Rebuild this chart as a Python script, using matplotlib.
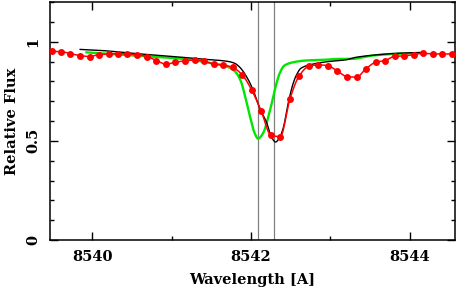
import numpy as np
import matplotlib
matplotlib.use("Agg")
import matplotlib.pyplot as plt
from matplotlib.ticker import MultipleLocator

# Observed spectrum (red points)
obs_wave = [8539.50, 8539.61, 8539.72, 8539.85, 8539.97, 8540.09, 8540.21, 8540.32,
            8540.44, 8540.56, 8540.69, 8540.81, 8540.93, 8541.05, 8541.17, 8541.29,
            8541.41, 8541.53, 8541.65, 8541.77, 8541.89, 8542.01, 8542.13, 8542.25,
            8542.37, 8542.49, 8542.61, 8542.73, 8542.85, 8542.97, 8543.09, 8543.21,
            8543.33, 8543.45, 8543.57, 8543.69, 8543.81, 8543.93, 8544.05, 8544.17,
            8544.29, 8544.41, 8544.53]
obs_flux = [0.951, 0.950, 0.940, 0.930, 0.925, 0.935, 0.937, 0.940,
            0.937, 0.935, 0.925, 0.905, 0.886, 0.897, 0.903, 0.908,
            0.902, 0.887, 0.883, 0.870, 0.833, 0.756, 0.650, 0.529,
            0.521, 0.710, 0.829, 0.876, 0.883, 0.879, 0.851, 0.824,
            0.821, 0.864, 0.896, 0.905, 0.926, 0.928, 0.935, 0.941,
            0.938, 0.938, 0.938]

# Black model
blk_wave = [8539.85, 8540.10, 8540.52, 8540.94, 8541.36, 8541.72, 8541.80, 8541.86,
            8541.95, 8542.03, 8542.11, 8542.20, 8542.25, 8542.31, 8542.36, 8542.41,
            8542.47, 8542.53, 8542.57, 8542.63, 8542.77, 8542.98, 8543.19, 8543.32,
            8543.57, 8543.82, 8544.17]
blk_flux = [0.961, 0.956, 0.941, 0.928, 0.913, 0.900, 0.890, 0.871,
            0.820, 0.754, 0.665, 0.590, 0.528, 0.494, 0.515, 0.569,
            0.690, 0.787, 0.829, 0.866, 0.886, 0.900, 0.908, 0.921,
            0.933, 0.941, 0.946]

# Green model
grn_wave = [8539.93, 8540.52, 8541.15, 8541.44, 8541.72, 8541.80, 8541.87, 8541.93,
            8541.99, 8542.05, 8542.09, 8542.15, 8542.24, 8542.32, 8542.36, 8542.42,
            8542.53, 8542.69, 8542.90, 8543.11, 8543.28, 8543.40, 8543.53, 8543.80,
            8544.07]
grn_flux = [0.946, 0.930, 0.913, 0.896, 0.871, 0.850, 0.804, 0.720,
            0.620, 0.536, 0.511, 0.536, 0.653, 0.787, 0.838, 0.879,
            0.896, 0.905, 0.908, 0.913, 0.913, 0.921, 0.930, 0.938,
            0.942]

vlines = [8542.09, 8542.29]

xticks = [8540, 8542, 8544]
yticks = [0, 0.5, 1]
ytick_labels = ["0", "0.5", "1"]


def pchip(x, y, n=600):
    x = np.asarray(x, float); y = np.asarray(y, float)
    h = np.diff(x); d = np.diff(y) / h
    m = np.zeros_like(y)
    for k in range(1, len(x) - 1):
        if d[k - 1] * d[k] > 0:
            w1 = 2 * h[k] + h[k - 1]; w2 = h[k] + 2 * h[k - 1]
            m[k] = (w1 + w2) / (w1 / d[k - 1] + w2 / d[k])
    m[0] = d[0]; m[-1] = d[-1]
    xs = np.linspace(x[0], x[-1], n)
    idx = np.clip(np.searchsorted(x, xs) - 1, 0, len(h) - 1)
    t = (xs - x[idx]) / h[idx]
    h00 = 2 * t**3 - 3 * t**2 + 1; h10 = t**3 - 2 * t**2 + t
    h01 = -2 * t**3 + 3 * t**2; h11 = t**3 - t**2
    ys = h00 * y[idx] + h10 * h[idx] * m[idx] + h01 * y[idx + 1] + h11 * h[idx] * m[idx + 1]
    return xs, ys


plt.rcParams['font.family'] = ['DejaVu Serif']
plt.rcParams['font.weight'] = 'bold'

fig = plt.figure(figsize=(4.58, 2.94), dpi=100)
ax = fig.add_axes([50 / 458, 54 / 294, 405 / 458, 238 / 294])

for v in vlines:
    ax.axvline(v, color='#808080', lw=0.9, zorder=1)

gx, gy = pchip(grn_wave, grn_flux)
ax.plot(gx, gy, color='#00e600', lw=1.7, zorder=2)
bx, by = pchip(blk_wave, blk_flux)
ax.plot(bx, by, color='black', lw=1.0, zorder=3)
rx, ry = pchip(obs_wave, obs_flux)
ax.plot(rx, ry, color='#ff0000', lw=1.1, zorder=4)
ax.plot(obs_wave, obs_flux, 'o', color='#ff0000', ms=5, mec='none', zorder=5)

ax.set_xlim(8539.47, 8544.57)
ax.set_ylim(0, 1.2)
ax.set_xticks(xticks)
ax.set_xticklabels([str(t) for t in xticks], fontsize=10.5, fontweight='bold')
ax.set_yticks(yticks)
ax.set_yticklabels(ytick_labels, fontsize=10.5, fontweight='bold', rotation=90, va='center')
ax.xaxis.set_minor_locator(MultipleLocator(1))
ax.yaxis.set_minor_locator(MultipleLocator(0.1))
ax.tick_params(which='both', direction='in', top=True, right=True, width=1.0)
ax.tick_params(which='major', length=5.5, pad=7)
ax.tick_params(which='minor', length=3)
for s in ax.spines.values():
    s.set_linewidth(1.1)

ax.set_xlabel('Wavelength [A]', fontsize=10.5, fontweight='bold', labelpad=7)
ax.set_ylabel('Relative Flux', fontsize=10.5, fontweight='bold', labelpad=5)

fig.savefig('out.png', dpi=100)
